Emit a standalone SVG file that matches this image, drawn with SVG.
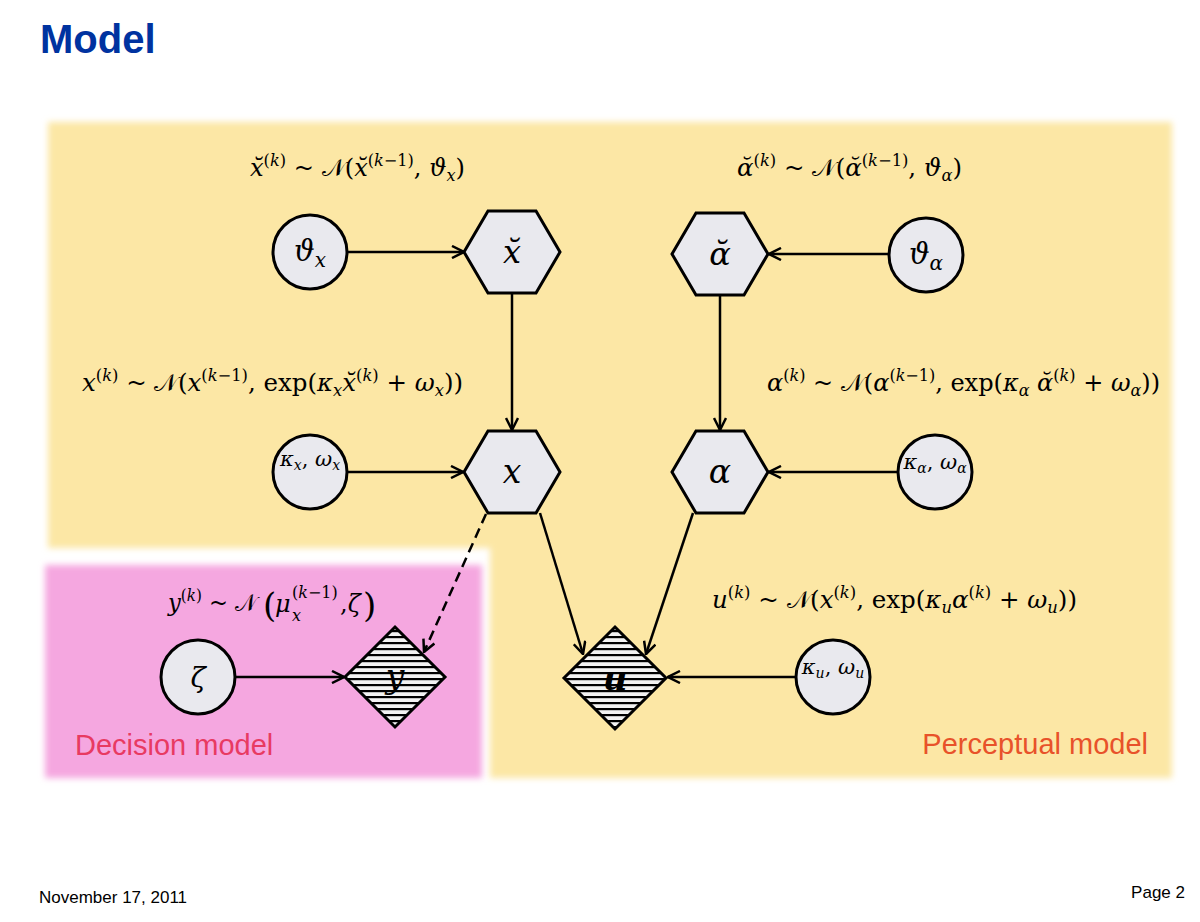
<svg xmlns="http://www.w3.org/2000/svg" width="1200" height="922" viewBox="0 0 1200 922">
<style>
.m{font-family:"DejaVu Serif","Liberation Serif",serif;font-size:24px;fill:#000}
.i{font-style:italic}
.s{font-size:16px}
.big{font-size:34px}
.node{fill:#E9E9EE;stroke:#000;stroke-width:3}
.dia{fill:url(#hatch);stroke:#000;stroke-width:3}
.lbl{font-family:"DejaVu Serif","Liberation Serif",serif;fill:#000;text-anchor:middle}
.edge{fill:none;stroke:#000;stroke-width:2.5}
.sans{font-family:"Liberation Sans",Arial,sans-serif}
</style>
<defs>
<filter id="soft" x="-5%" y="-5%" width="110%" height="110%"><feGaussianBlur stdDeviation="3"/></filter>
<pattern id="hatch" patternUnits="userSpaceOnUse" width="10" height="6"><rect width="10" height="6" fill="#F2F2F2"/><rect width="10" height="2.2" fill="#000"/></pattern>
<marker id="ah" viewBox="0 0 14 14" refX="13" refY="7" markerWidth="14" markerHeight="14" markerUnits="userSpaceOnUse" orient="auto"><path d="M1,1 L13,7 L1,13" fill="none" stroke="#000" stroke-width="2.5"/></marker>
</defs>
<rect width="1200" height="922" fill="#fff"/>
<g id="backgrounds">
<path d="M48,122 H1172 V778 H490 V548 H48 Z" fill="#FCE7A5" filter="url(#soft)"/>
<rect x="45" y="565" width="437" height="213" fill="#F5A7E0" filter="url(#soft)"/>
</g>
<text class="sans" x="40" y="53" font-size="40" font-weight="bold" fill="#0033A0">Model</text>
<text class="sans" x="75" y="755" font-size="29" fill="#E83A62">Decision model</text>
<text class="sans" x="1148" y="754" font-size="29" fill="#E8522A" text-anchor="end">Perceptual model</text>
<text class="sans" x="39" y="903" font-size="17" fill="#000">November 17, 2011</text>
<text class="sans" x="1185" y="898" font-size="17" fill="#000" text-anchor="end">Page 2</text>

<g id="formulas">
<text class="m" x="250" y="176" textLength="215" lengthAdjust="spacingAndGlyphs"><tspan class="i">x̆</tspan><tspan class="s" dy="-10">(<tspan class="i">k</tspan>)</tspan><tspan dy="10"> ~ 𝒩(</tspan><tspan class="i">x̆</tspan><tspan class="s" dy="-10">(<tspan class="i">k</tspan>−1)</tspan><tspan dy="10">, </tspan><tspan class="i">ϑ</tspan><tspan class="s i" dy="5">x</tspan><tspan dy="-5">)</tspan></text>
<text class="m" x="737" y="176" textLength="225" lengthAdjust="spacingAndGlyphs"><tspan class="i">ᾰ</tspan><tspan class="s" dy="-10">(<tspan class="i">k</tspan>)</tspan><tspan dy="10"> ~ 𝒩(</tspan><tspan class="i">ᾰ</tspan><tspan class="s" dy="-10">(<tspan class="i">k</tspan>−1)</tspan><tspan dy="10">, </tspan><tspan class="i">ϑ</tspan><tspan class="s i" dy="5">α</tspan><tspan dy="-5">)</tspan></text>
<text class="m" x="82" y="391" textLength="381" lengthAdjust="spacingAndGlyphs"><tspan class="i">x</tspan><tspan class="s" dy="-10">(<tspan class="i">k</tspan>)</tspan><tspan dy="10"> ~ 𝒩(</tspan><tspan class="i">x</tspan><tspan class="s" dy="-10">(<tspan class="i">k</tspan>−1)</tspan><tspan dy="10">, exp(</tspan><tspan class="i">κ</tspan><tspan class="s i" dy="5">x</tspan><tspan class="i" dy="-5">x̆</tspan><tspan class="s" dy="-10">(<tspan class="i">k</tspan>)</tspan><tspan dy="10"> + </tspan><tspan class="i">ω</tspan><tspan class="s i" dy="5">x</tspan><tspan dy="-5">))</tspan></text>
<text class="m" x="767" y="391" textLength="393" lengthAdjust="spacingAndGlyphs"><tspan class="i">α</tspan><tspan class="s" dy="-10">(<tspan class="i">k</tspan>)</tspan><tspan dy="10"> ~ 𝒩(</tspan><tspan class="i">α</tspan><tspan class="s" dy="-10">(<tspan class="i">k</tspan>−1)</tspan><tspan dy="10">, exp(</tspan><tspan class="i">κ</tspan><tspan class="s i" dy="5">α</tspan><tspan class="i" dy="-5"> ᾰ</tspan><tspan class="s" dy="-10">(<tspan class="i">k</tspan>)</tspan><tspan dy="10"> + </tspan><tspan class="i">ω</tspan><tspan class="s i" dy="5">α</tspan><tspan dy="-5">))</tspan></text>
<text class="m" x="712" y="608" textLength="365" lengthAdjust="spacingAndGlyphs"><tspan class="i">u</tspan><tspan class="s" dy="-10">(<tspan class="i">k</tspan>)</tspan><tspan dy="10"> ~ 𝒩(</tspan><tspan class="i">x</tspan><tspan class="s" dy="-10">(<tspan class="i">k</tspan>)</tspan><tspan dy="10">, exp(</tspan><tspan class="i">κ</tspan><tspan class="s i" dy="5">u</tspan><tspan class="i" dy="-5">α</tspan><tspan class="s" dy="-10">(<tspan class="i">k</tspan>)</tspan><tspan dy="10"> + </tspan><tspan class="i">ω</tspan><tspan class="s i" dy="5">u</tspan><tspan dy="-5">))</tspan></text>
<text class="m" x="168" y="611" textLength="89" lengthAdjust="spacingAndGlyphs"><tspan class="i">y</tspan><tspan class="s" dy="-10">(<tspan class="i">k</tspan>)</tspan><tspan dy="10"> ~ 𝒩</tspan></text>
<text class="m big" x="263" y="617">(</text>
<text class="m i" x="275" y="612">μ</text>
<text class="m s i" x="292" y="621">x</text>
<text class="m s" x="292" y="598">(<tspan class="i">k</tspan>−1)</text>
<text class="m" x="340" y="612">,<tspan class="i">ζ</tspan></text>
<text class="m big" x="363" y="617">)</text>
</g>

<g id="connectors">
<path class="edge" d="M348,252 H464" marker-end="url(#ah)"/>
<path class="edge" d="M889,254 H769" marker-end="url(#ah)"/>
<path class="edge" d="M512,293 V430" marker-end="url(#ah)"/>
<path class="edge" d="M720,295 V430" marker-end="url(#ah)"/>
<path class="edge" d="M347,472 H463" marker-end="url(#ah)"/>
<path class="edge" d="M898,472 H769" marker-end="url(#ah)"/>
<path class="edge" d="M540,513 L583,654" marker-end="url(#ah)"/>
<path class="edge" d="M693,513 L646,654" marker-end="url(#ah)"/>
<path class="edge" d="M796,677 H668" marker-end="url(#ah)"/>
<path class="edge" d="M235,677 H344" marker-end="url(#ah)"/>
<path class="edge" d="M486,514 L424,652" stroke-dasharray="10,6" marker-end="url(#ah)"/>
</g>

<g id="n-theta-x"><circle class="node" cx="310" cy="252" r="37"/><text class="lbl" x="310" y="261" font-size="29"><tspan class="i">ϑ</tspan><tspan class="i" font-size="20" dy="6">x</tspan></text></g>
<g id="n-xbreve"><polygon class="node" points="464,252 488,211 536,211 560,252 536,293 488,293"/><text class="lbl i" x="512" y="263" font-size="32">x̆</text></g>
<g id="n-abreve"><polygon class="node" points="672,254 696,213 744,213 768,254 744,295 696,295"/><text class="lbl i" x="720" y="265" font-size="32">ᾰ</text></g>
<g id="n-theta-a"><circle class="node" cx="926" cy="255" r="37"/><text class="lbl" x="926" y="264" font-size="29"><tspan class="i">ϑ</tspan><tspan class="i" font-size="20" dy="6">α</tspan></text></g>
<g id="n-kx"><circle class="node" cx="310" cy="472" r="37"/><text class="lbl" x="310" y="466" font-size="21"><tspan class="i">κ</tspan><tspan class="i" font-size="14" dy="4">x</tspan><tspan dy="-4">, </tspan><tspan class="i">ω</tspan><tspan class="i" font-size="14" dy="4">x</tspan></text></g>
<g id="n-x"><polygon class="node" points="464,472 488,431 536,431 560,472 536,513 488,513"/><text class="lbl i" x="512" y="483" font-size="33">x</text></g>
<g id="n-alpha"><polygon class="node" points="672,472 696,431 744,431 768,472 744,513 696,513"/><text class="lbl i" x="720" y="483" font-size="33">α</text></g>
<g id="n-ka"><circle class="node" cx="935" cy="472" r="37"/><text class="lbl" x="935" y="469" font-size="21"><tspan class="i">κ</tspan><tspan class="i" font-size="14" dy="4">α</tspan><tspan dy="-4">, </tspan><tspan class="i">ω</tspan><tspan class="i" font-size="14" dy="4">α</tspan></text></g>
<g id="n-zeta"><circle class="node" cx="198" cy="677" r="37"/><text class="lbl i" x="198" y="687" font-size="28">ζ</text></g>
<g id="n-y"><polygon class="dia" points="395,627 445,677 395,727 345,677"/><text class="lbl i" x="395" y="688" font-size="33">y</text></g>
<g id="n-u"><polygon class="dia" points="615,627 666,678 615,729 564,678"/><text class="lbl i" x="615" y="690" font-size="34" font-weight="bold">u</text></g>
<g id="n-ku"><circle class="node" cx="833" cy="677" r="37"/><text class="lbl" x="833" y="674" font-size="21"><tspan class="i">κ</tspan><tspan class="i" font-size="14" dy="4">u</tspan><tspan dy="-4">, </tspan><tspan class="i">ω</tspan><tspan class="i" font-size="14" dy="4">u</tspan></text></g>
</svg>
